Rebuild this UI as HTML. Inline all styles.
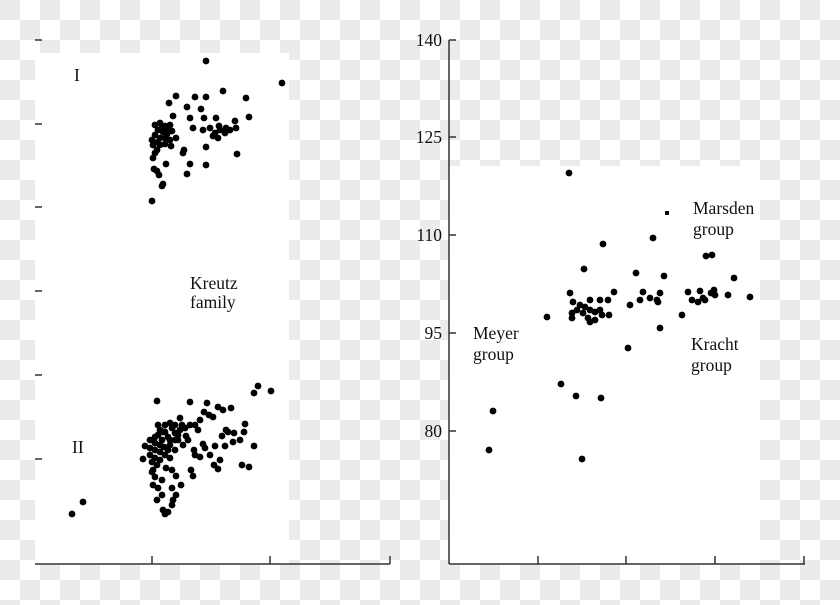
<!DOCTYPE html>
<html><head><meta charset="utf-8"><style>
html,body{margin:0;padding:0}
body{width:840px;height:605px;overflow:hidden;background-color:#fff;
background-image:linear-gradient(45deg,#ebebeb 25%,transparent 25%,transparent 75%,#ebebeb 75%),linear-gradient(45deg,#ebebeb 25%,transparent 25%,transparent 75%,#ebebeb 75%);
background-size:40px 40px;background-position:20px 0,0 20px;}
svg{position:absolute;left:0;top:0}
text{font-family:"Liberation Serif",serif;font-size:17.5px;fill:#111}
</style></head><body>
<svg width="840" height="605" xmlns="http://www.w3.org/2000/svg">
<rect x="35" y="53" width="254" height="511" fill="#fff"/>
<rect x="449" y="166" width="311" height="398" fill="#fff"/>
<g stroke="#333" stroke-width="1.5">
<line x1="35" y1="564" x2="390" y2="564"/>
<line x1="152" y1="564" x2="152" y2="556"/><line x1="270" y1="564" x2="270" y2="556"/><line x1="390" y1="564" x2="390" y2="556"/>
<line x1="35" y1="40" x2="42" y2="40"/><line x1="35" y1="124" x2="42" y2="124"/><line x1="35" y1="207" x2="42" y2="207"/><line x1="35" y1="291" x2="42" y2="291"/><line x1="35" y1="375" x2="42" y2="375"/><line x1="35" y1="459" x2="42" y2="459"/>
<line x1="449" y1="40" x2="449" y2="564"/><line x1="449" y1="564" x2="805" y2="564"/>
<line x1="538" y1="564" x2="538" y2="556"/><line x1="626" y1="564" x2="626" y2="556"/><line x1="715" y1="564" x2="715" y2="556"/><line x1="804" y1="564" x2="804" y2="556"/>
<line x1="449" y1="40" x2="456" y2="40"/><line x1="449" y1="137" x2="456" y2="137"/><line x1="449" y1="235" x2="456" y2="235"/><line x1="449" y1="333" x2="456" y2="333"/><line x1="449" y1="431" x2="456" y2="431"/>
</g>
<g text-anchor="end">
<text x="442" y="46">140</text><text x="442" y="143">125</text><text x="442" y="241">110</text><text x="442" y="339">95</text><text x="442" y="437">80</text>
</g>
<text x="74" y="81">I</text>
<text x="72" y="453">II</text>
<text x="190" y="289">Kreutz</text><text x="190" y="308">family</text>
<text x="473" y="339">Meyer</text><text x="473" y="360">group</text>
<text x="691" y="350">Kracht</text><text x="691" y="371">group</text>
<text x="693" y="214">Marsden</text><text x="693" y="235">group</text>
<g fill="#000" id="pts"></g>
</svg>
<script>
var P=[[206,61],[282,83],[176,96],[195,97],[206,97],[223,91],[246,98],[169,103],[187,107],[201,109],[173,116],[190,118],[204,118],[216,118],[249,117],[235,121],[236,128],[155,125],[160,123],[165,126],[170,125],[158,130],[163,132],[168,130],[172,131],[155,135],[160,138],[165,138],[170,140],[176,138],[193,128],[203,130],[210,128],[215,133],[220,130],[225,133],[230,130],[218,138],[213,136],[160,145],[165,144],[171,146],[153,145],[157,150],[184,150],[183,153],[206,147],[237,154],[153,158],[155,153],[166,164],[190,164],[206,165],[154,169],[157,171],[159,175],[187,174],[163,184],[162,186],[152,201],[162,128],[167,134],[152,140],[158,142],[219,126],[226,128],
[157,401],[258,386],[271,391],[254,393],[72,514],[83,502],[190,402],[207,403],[218,407],[223,410],[231,408],[209,415],[213,417],[245,424],[228,432],[234,433],[244,432],[233,442],[254,446],[242,465],[249,467],[214,465],[220,460],[210,455],[200,457],[195,455],[215,446],[225,446],[203,444],[194,450],[191,470],[218,469],[143,459],[145,446],[150,440],[155,437],[160,430],[165,425],[170,423],[175,425],[180,430],[185,428],[190,425],[195,425],[198,430],[188,440],[183,445],[178,440],[170,440],[160,445],[155,450],[150,455],[152,462],[157,465],[153,470],[160,460],[165,455],[170,458],[166,468],[172,470],[152,472],[155,477],[153,485],[162,480],[172,488],[176,495],[173,500],[172,505],[163,510],[168,512],[165,514],[158,488],[162,495],[157,500],[181,485],[176,476],[193,476],[170,445],[175,450],[162,440],[158,435],[175,433],[186,436],[180,418],[163,432],[168,437],[150,448],[155,443],[164,447],[158,425],[165,432],[172,428],[178,435],[160,452],[155,458],[168,450],[175,440],[182,425],[200,420],[204,412],[222,436],[226,430],[240,440],[205,448],
[569,173],[603,244],[653,238],[584,269],[636,273],[664,276],[706,256],[712,255],[734,278],[570,293],[614,292],[643,292],[660,293],[700,291],[711,293],[714,290],[728,295],[715,295],[705,300],[590,300],[600,300],[608,300],[640,300],[650,298],[688,292],[692,300],[698,302],[703,298],[750,297],[547,317],[573,302],[580,305],[585,307],[572,313],[572,318],[583,313],[590,310],[595,312],[600,310],[602,315],[588,318],[590,322],[595,320],[609,315],[630,305],[682,315],[660,328],[628,348],[658,302],[493,411],[489,450],[561,384],[576,396],[601,398],[582,459],[577,310],[657,300]];
var g=document.getElementById('pts'),s='';
P.forEach(function(p){s+='<circle cx="'+p[0]+'" cy="'+p[1]+'" r="3.4"/>';});
s+='<rect x="665" y="211" width="4" height="4"/>';
g.innerHTML=s;
</script>
</body></html>
